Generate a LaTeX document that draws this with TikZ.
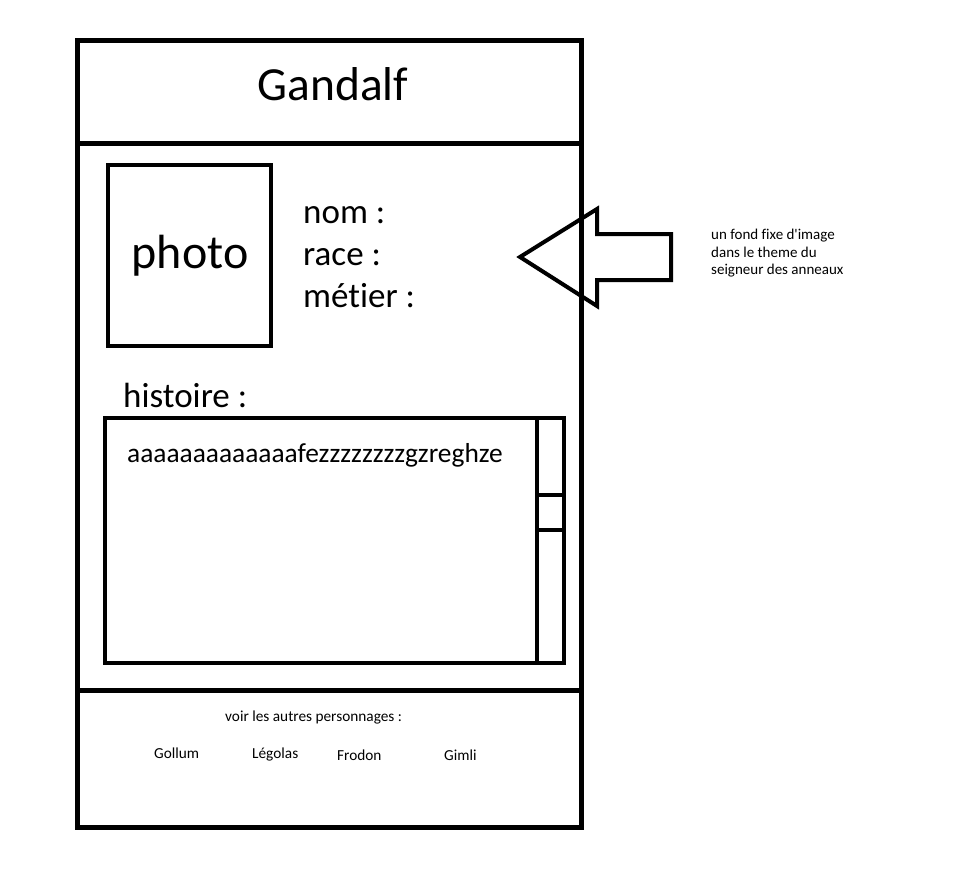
\documentclass[tikz,border=0pt]{standalone}
\usepackage{fontspec}
\setmainfont{Carlito}[Ligatures={TeXOff,NoCommon}]
\usetikzlibrary{positioning}

\begin{document}
\begin{tikzpicture}[x=1pt, y=-1pt,
    frame/.style={draw=black, line width=5pt},
    box/.style={draw=black, line width=4pt},
    txt/.style={inner sep=0pt, anchor=base west},
    big/.style={font=\fontsize{35}{42}\selectfont},
    small/.style={font=\fontsize{15.3}{18}\selectfont}]
\useasboundingbox (0,0) rectangle (959,875);

% la page
\draw[frame] (77,41) rectangle (581,827);
\draw[frame] (77,143) -- (581,143);
\draw[frame] (77,690) -- (581,690);
\draw[box] (108,165) rectangle (271,346);
\draw[box] (105,418) rectangle (564,663);
\draw[box] (537,418) -- (537,663);
\draw[box] (537,495) -- (564,495);
\draw[box] (537,530) -- (564,530);

% textes
\node[txt, anchor=base, font=\fontsize{47.5}{56}\selectfont] (titre) at (333,100) {Gandalf};
\node[txt, anchor=base, font=\fontsize{48}{56}\selectfont] (photo) at (190,268) {photo};
\node[txt, big] (nom) at (303,223) {nom :};
\node[txt, big] (race) at (303,265) {race :};
\node[txt, big] (metier) at (303,307) {métier :};
\node[txt, big] (histoire) at (123,407) {histoire :};
\node[txt, font=\fontsize{27.4}{33}\selectfont] (texte) at (127,462) {aaaaaaaaaaaaafezzzzzzzzgzreghze};
\node[txt, align=left, anchor=north west, font=\fontsize{15}{17.5}\selectfont] (fond) at (711,229) {un fond fixe d'image\\dans le theme du\\seigneur des anneaux};
\node[txt, small] (voir) at (225,721) {voir les autres personnages :};
\node[txt, small] (gollum) at (154,758) {Gollum};
\node[txt, small] (legolas) at (252,758) {Légolas};
\node[txt, small] (frodon) at (337,760) {Frodon};
\node[txt, small] (gimli) at (444,760) {Gimli};

% la fleche
\draw[box, line join=miter] (520,257) -- (597,209) -- (597,234) -- (671,234)
    -- (671,280) -- (597,280) -- (597,306) -- cycle;
\end{tikzpicture}
\end{document}
